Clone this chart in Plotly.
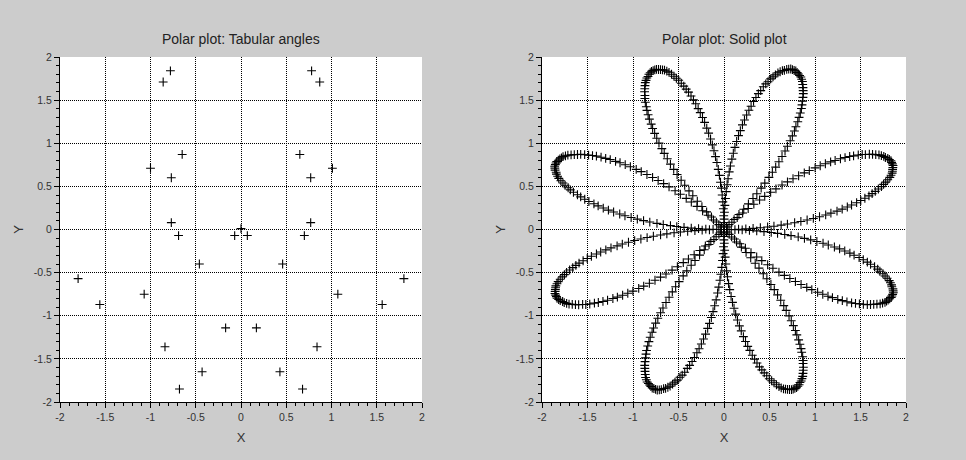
import numpy as np
import plotly.graph_objects as go

# ---------------- data ----------------
# Left panel: points (Cartesian coordinates)
tab_x = [-0.86, -0.78, 0.78, 0.87, -0.65, -1.00, -0.77, 0.65, 1.01, 0.77,
         -0.77, -0.69, 0.77, 0.70, 0.00, -0.07, 0.07, -0.46, 0.46,
         -1.80, -1.56, -1.07, 1.07, 1.56, 1.80, -0.17, 0.17, -0.84, 0.84,
         -0.43, 0.43, -0.68, 0.68]
tab_y = [1.71, 1.84, 1.84, 1.71, 0.87, 0.71, 0.60, 0.87, 0.71, 0.60,
         0.08, -0.07, 0.08, -0.07, 0.01, -0.07, -0.07, -0.40, -0.40,
         -0.57, -0.87, -0.75, -0.75, -0.87, -0.57, -1.14, -1.14, -1.36, -1.36,
         -1.65, -1.65, -1.85, -1.85]

# Right panel: one petal profile (angle within petal in rad, radius)
petal_angle = [0.00, 0.01, 0.02, 0.03, 0.04, 0.05, 0.06, 0.07, 0.08, 0.09,
               0.10, 0.11, 0.12, 0.13, 0.14, 0.15, 0.16, 0.17, 0.18, 0.19,
               0.20, 0.21, 0.22, 0.23, 0.24, 0.25, 0.26, 0.27, 0.28, 0.29,
               0.30, 0.31, 0.32, 0.33, 0.34, 0.35, 0.36, 0.37, 0.38, 0.39,
               0.40, 0.41, 0.42, 0.43, 0.44, 0.45, 0.46, 0.47, 0.48, 0.49,
               0.50, 0.51, 0.52, 0.53, 0.54, 0.55, 0.56, 0.57, 0.58, 0.59,
               0.60, 0.61, 0.62, 0.63, 0.64, 0.65, 0.66, 0.67, 0.68, 0.69,
               0.70, 0.71, 0.72, 0.73, 0.74, 0.75, 0.76, 0.77, 0.78]
petal_radius = [0.00, 0.08, 0.16, 0.24, 0.32, 0.40, 0.48, 0.55, 0.63, 0.70,
                0.78, 0.85, 0.92, 0.99, 1.06, 1.13, 1.19, 1.26, 1.32, 1.38,
                1.43, 1.49, 1.54, 1.59, 1.64, 1.68, 1.72, 1.76, 1.80, 1.83,
                1.86, 1.89, 1.92, 1.94, 1.96, 1.97, 1.98, 1.99, 2.00, 2.00,
                2.00, 2.00, 1.99, 1.98, 1.96, 1.95, 1.93, 1.91, 1.88, 1.85,
                1.82, 1.78, 1.75, 1.71, 1.66, 1.62, 1.57, 1.52, 1.46, 1.41,
                1.35, 1.29, 1.23, 1.16, 1.10, 1.03, 0.96, 0.89, 0.82, 0.74,
                0.67, 0.59, 0.52, 0.44, 0.36, 0.28, 0.20, 0.12, 0.04]
petal_start_deg = [0, 45, 90, 135, 180, 225, 270, 315]

tick_vals = [-2, -1.5, -1, -0.5, 0, 0.5, 1, 1.5, 2]
tick_text = ["-2", "-1.5", "-1", "-0.5", "0", "0.5", "1", "1.5", "2"]

titles = ["Polar plot: Tabular angles", "Polar plot: Solid plot"]

# polar -> cartesian for the rose
pa = np.array(petal_angle)
pr = np.array(petal_radius)
rose_x, rose_y = [], []
for s in petal_start_deg:
    th = np.deg2rad(s) + pa
    rose_x.extend(pr * np.cos(th))
    rose_y.extend(pr * np.sin(th))

# ---------------- figure ----------------
FONT = "Liberation Sans, Arial, sans-serif"
marker = dict(symbol="cross-thin", size=6.3, color="black",
              line=dict(color="black", width=1.1))

fig = go.Figure()
fig.add_trace(go.Scatter(x=tab_x, y=tab_y, mode="markers", marker=marker,
                         xaxis="x", yaxis="y", showlegend=False,
                         cliponaxis=False))
fig.add_trace(go.Scatter(x=rose_x, y=rose_y, mode="markers", marker=marker,
                         xaxis="x2", yaxis="y2", showlegend=False))


def axis(domain, anchor, title, standoff):
    return dict(
        domain=domain, anchor=anchor, range=[-2, 2], automargin=False,
        tickmode="array", tickvals=tick_vals, ticktext=tick_text,
        ticks="outside", ticklen=5, tickwidth=1, tickcolor="black",
        minor=dict(dtick=0.1, tick0=0, ticks="outside", ticklen=3,
                   tickwidth=1, tickcolor="black", showgrid=False),
        showgrid=True, gridcolor="black", gridwidth=1, griddash="1px,1px",
        zeroline=False, showline=True, linecolor="black", linewidth=1,
        mirror=False, tickfont=dict(family=FONT, size=10.5, color="#333333"),
        title=dict(text=title, font=dict(family=FONT, size=13, color="#333333"),
                   standoff=standoff),
        fixedrange=True,
    )


ML, MR, MT, MB = 60, 60, 57, 58
W, H = 966, 460
PW, PH = W - ML - MR, H - MT - MB

x1dom = [(60 - ML) / PW, (422 - ML) / PW]
x2dom = [(542 - ML) / PW, (906 - ML) / PW]
ydom = [0, 1]

fig.update_layout(
    width=W, height=H,
    margin=dict(l=ML, r=MR, t=MT, b=MB, autoexpand=False),
    paper_bgcolor="#cccccc", plot_bgcolor="white",
    xaxis=axis(x1dom, "y", "X", 11),
    yaxis=axis(ydom, "x", "Y", 7),
    xaxis2=axis(x2dom, "y2", "X", 11),
    yaxis2=axis(ydom, "x2", "Y", 7),
)

for dom, t in zip([x1dom, x2dom], titles):
    fig.add_annotation(text=t, x=(dom[0] + dom[1]) / 2, y=(H - MB - 39) / PH,
                       xref="paper", yref="paper", showarrow=False,
                       xanchor="center", yanchor="middle",
                       font=dict(family=FONT, size=14, color="#222222"))

fig.write_html("out.html",
               config={"displayModeBar": False},
               post_script="document.body.style.margin='0';"
                           "document.body.style.background='#cccccc';")
